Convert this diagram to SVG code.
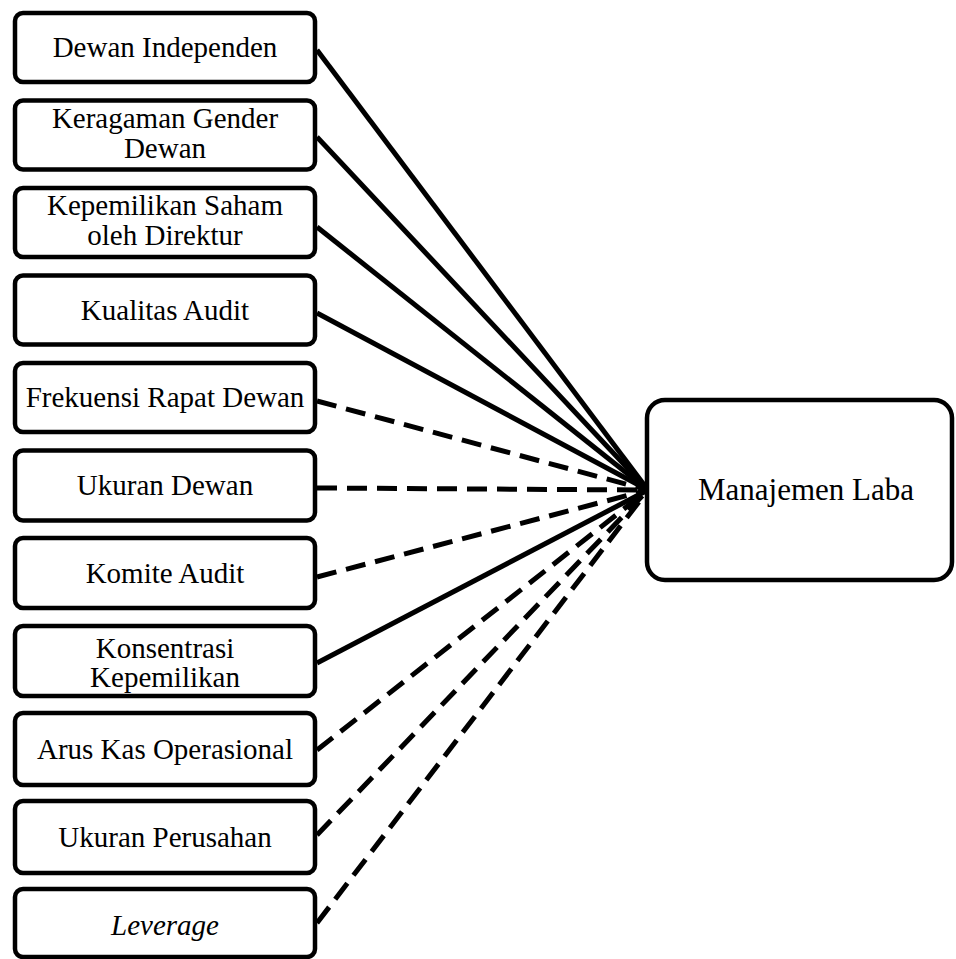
<svg xmlns="http://www.w3.org/2000/svg" width="956" height="959" viewBox="0 0 956 959">
<style>
.box{fill:#fff;stroke:#000;stroke-width:4.5}
text{font-family:'Liberation Serif',serif;font-size:29px;fill:#000;text-anchor:middle}
.c{stroke:#000;stroke-width:5;fill:none}
.d{stroke-dasharray:20 10}
</style>
<rect width="956" height="959" fill="#fff"/>
<g id="connectors">
<line class="c" x1="317" y1="50" x2="648" y2="490"/>
<line class="c" x1="317" y1="137" x2="648" y2="490"/>
<line class="c" x1="317" y1="227" x2="648" y2="490"/>
<line class="c" x1="317" y1="313" x2="648" y2="490"/>
<line class="c d" x1="317" y1="401" x2="648" y2="490"/>
<line class="c d" x1="317" y1="488" x2="648" y2="490"/>
<line class="c d" x1="317" y1="577" x2="648" y2="490"/>
<line class="c" x1="317" y1="663" x2="648" y2="490"/>
<line class="c d" x1="317" y1="750" x2="648" y2="490"/>
<line class="c d" x1="317" y1="835" x2="648" y2="490"/>
<line class="c d" x1="317" y1="923" x2="648" y2="490"/>
</g>
<g id="n1"><rect class="box" x="15" y="13" width="300" height="69" rx="8"/><text x="165" y="57">Dewan Independen</text></g>
<g id="n2"><rect class="box" x="15" y="100.5" width="300" height="69" rx="8"/><text x="165" y="128">Keragaman Gender</text><text x="165" y="158">Dewan</text></g>
<g id="n3"><rect class="box" x="15" y="188" width="300" height="69" rx="8"/><text x="165" y="215">Kepemilikan Saham</text><text x="165" y="245">oleh Direktur</text></g>
<g id="n4"><rect class="box" x="15" y="275.5" width="300" height="69" rx="8"/><text x="165" y="320">Kualitas Audit</text></g>
<g id="n5"><rect class="box" x="15" y="363" width="300" height="69" rx="8"/><text x="165" y="407">Frekuensi Rapat Dewan</text></g>
<g id="n6"><rect class="box" x="15" y="450.5" width="300" height="70" rx="8"/><text x="165" y="495">Ukuran Dewan</text></g>
<g id="n7"><rect class="box" x="15" y="538" width="300" height="70" rx="8"/><text x="165" y="583">Komite Audit</text></g>
<g id="n8"><rect class="box" x="15" y="626" width="300" height="70" rx="8"/><text x="165" y="658">Konsentrasi</text><text x="165" y="687">Kepemilikan</text></g>
<g id="n9"><rect class="box" x="15" y="713" width="300" height="72" rx="8"/><text x="165" y="759">Arus Kas Operasional</text></g>
<g id="n10"><rect class="box" x="15" y="801" width="300" height="72" rx="8"/><text x="165" y="847">Ukuran Perusahan</text></g>
<g id="n11"><rect class="box" x="15" y="889" width="300" height="68" rx="8"/><text x="165" y="935" font-style="italic">Leverage</text></g>
<g id="target"><rect class="box" x="647" y="400" width="305" height="180" rx="18"/><text x="806" y="500" style="font-size:31px">Manajemen Laba</text></g>
</svg>
